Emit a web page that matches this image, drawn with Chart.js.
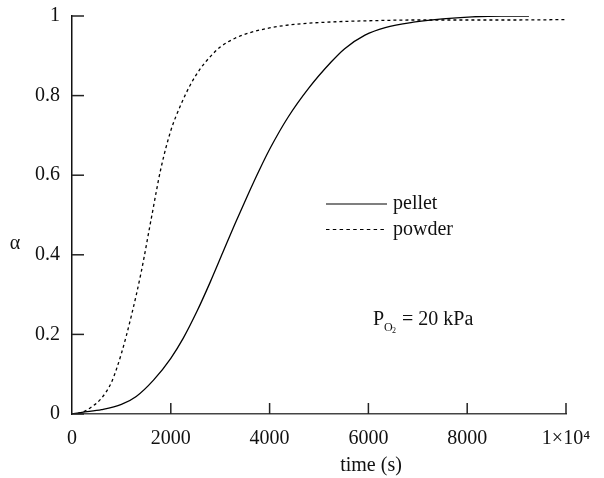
<!DOCTYPE html>
<html>
<head>
<meta charset="utf-8">
<script src="https://cdn.jsdelivr.net/npm/chart.js@4/dist/chart.umd.min.js"></script>
<style>
  body { margin: 0; background: #fff; }
  #wrap { width: 604px; height: 478px; }
</style>
</head>
<body>
<div id="wrap"><canvas id="alphaChart" width="604" height="478"></canvas></div>
<script>
// values
const pelletTime = [0, 200, 600, 1000, 1300, 1650, 2000, 2250, 2530, 2800, 3050, 3300, 3550, 3800, 4030, 4370, 4800, 5250, 5520, 5930, 6340, 6950, 7500, 8100, 8700, 9250];
const pelletAlpha = [0, 0.004, 0.011, 0.024, 0.044, 0.085, 0.14, 0.19, 0.258, 0.332, 0.405, 0.478, 0.548, 0.615, 0.672, 0.745, 0.82, 0.885, 0.918, 0.952, 0.971, 0.985, 0.993, 0.998, 1.0, 1.0];

const powderTime = [0, 200, 400, 600, 800, 1000, 1200, 1400, 1600, 1800, 2000, 2200, 2400, 2600, 2800, 3000, 3300, 3600, 4000, 4500, 5250, 6000, 7000, 8000, 9000, 10000];
const powderAlpha = [0, 0.004, 0.018, 0.04, 0.08, 0.152, 0.246, 0.356, 0.488, 0.617, 0.712, 0.776, 0.828, 0.868, 0.898, 0.922, 0.944, 0.958, 0.97, 0.979, 0.985, 0.988, 0.99, 0.99, 0.99, 0.991];

const xTickLabels = ['0', '2000', '4000', '6000', '8000', '1×10⁴'];
const yTickLabels = ['0', '0.2', '0.4', '0.6', '0.8', '1'];
const seriesNames = ['pellet', 'powder'];

const serif = "'Liberation Serif', 'DejaVu Serif', serif";

function toPoints(xs, ys) {
  return xs.map((x, i) => ({ x: x, y: ys[i] }));
}

// inward tick marks, axis titles, legend and the P_O2 note
const decorations = {
  id: 'decorations',
  afterDraw(chart) {
    const c = chart.ctx;
    const xs = chart.scales.x;
    const ys = chart.scales.y;
    const area = chart.chartArea;

    c.save();
    c.strokeStyle = '#222';
    c.lineWidth = 1.5;
    xs.ticks.forEach(t => {
      if (t.value === 0) return;
      const px = xs.getPixelForValue(t.value);
      c.beginPath();
      c.moveTo(px, area.bottom);
      c.lineTo(px, area.bottom - 11);
      c.stroke();
    });
    ys.ticks.forEach(t => {
      const py = ys.getPixelForValue(t.value);
      c.beginPath();
      c.moveTo(area.left, py);
      c.lineTo(area.left + 12, py);
      c.stroke();
    });

    c.fillStyle = '#111';
    c.font = '20px ' + serif;
    c.textAlign = 'center';
    c.textBaseline = 'alphabetic';
    c.fillText('time (s)', 371, 471);
    c.fillText('α', 15, 249);

    // legend
    c.textAlign = 'left';
    c.lineWidth = 1.2;
    c.strokeStyle = '#000';
    c.beginPath();
    c.moveTo(326, 204);
    c.lineTo(387, 204);
    c.stroke();
    c.setLineDash([3.5, 3.3]);
    c.beginPath();
    c.moveTo(326, 229.5);
    c.lineTo(387, 229.5);
    c.stroke();
    c.setLineDash([]);
    c.font = '20px ' + serif;
    c.fillText(seriesNames[0], 393, 209);
    c.fillText(seriesNames[1], 393, 235);

    // P_O2 = 20 kPa
    c.font = '20px ' + serif;
    c.fillText('P', 373, 325);
    c.font = '12px ' + serif;
    c.fillText('O', 384, 331);
    c.font = '8px ' + serif;
    c.fillText('2', 392, 333);
    c.font = '20px ' + serif;
    c.fillText('= 20 kPa', 402, 325);
    c.restore();
  }
};

const ctx = document.getElementById('alphaChart').getContext('2d');

const chart = new Chart(ctx, {
  type: 'line',
  data: {
    datasets: [{
      label: seriesNames[0],
      data: toPoints(pelletTime, pelletAlpha),
      borderColor: '#000',
      borderWidth: 1.3,
      pointRadius: 0,
      fill: false,
      cubicInterpolationMode: 'monotone'
    }, {
      label: seriesNames[1],
      data: toPoints(powderTime, powderAlpha),
      borderColor: '#000',
      borderWidth: 1.3,
      borderDash: [3, 3],
      pointRadius: 0,
      fill: false,
      cubicInterpolationMode: 'monotone'
    }]
  },
  options: {
    responsive: false,
    animation: false,
    layout: { padding: { top: 16, right: 38, left: 0, bottom: 0 } },
    plugins: {
      legend: { display: false },
      tooltip: { enabled: false }
    },
    scales: {
      x: {
        type: 'linear',
        min: 0,
        max: 10000,
        afterFit: s => { s.height = 64; },
        ticks: {
          stepSize: 2000,
          maxRotation: 0,
          padding: 13,
          color: '#111',
          font: { family: serif, size: 20 },
          callback: (v) => xTickLabels[Math.round(v / 2000)]
        },
        grid: { display: false, drawTicks: false },
        border: { display: true, color: '#444', width: 1.6 }
      },
      y: {
        min: 0,
        max: 1,
        afterFit: s => { s.width = 72; s.paddingTop = 0; s.paddingBottom = 0; },
        ticks: {
          stepSize: 0.2,
          padding: 12,
          color: '#111',
          font: { family: serif, size: 20 },
          callback: (v) => yTickLabels[Math.round(v / 0.2)]
        },
        grid: { display: false, drawTicks: false },
        border: { display: true, color: '#111', width: 1.5 }
      }
    }
  },
  plugins: [decorations]
});
</script>
</body>
</html>
